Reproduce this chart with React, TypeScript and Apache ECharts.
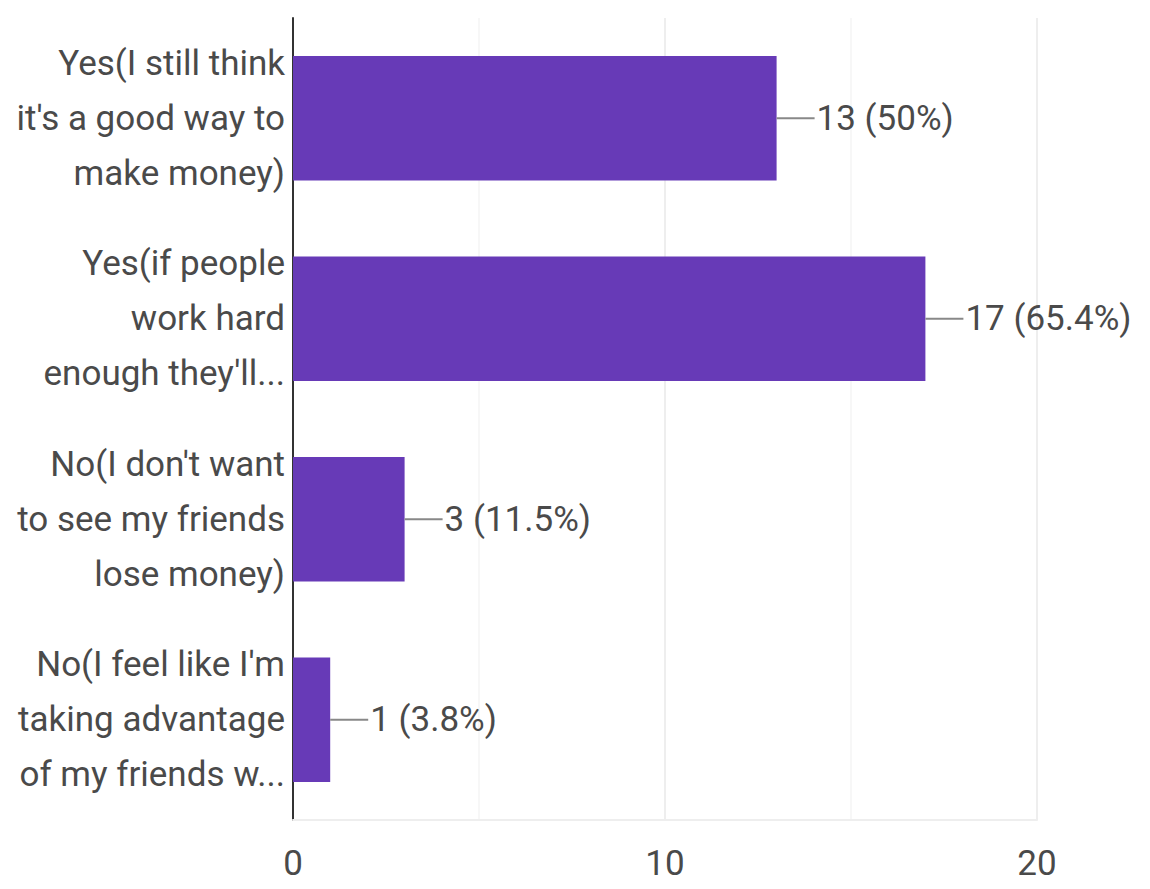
import React, { useEffect, useRef } from "react";
import * as echarts from "echarts";

const categories = [
  "Yes(I still think\nit's a good way to\nmake money)",
  "Yes(if people\nwork hard\nenough they'll...",
  "No(I don't want\nto see my friends\nlose money)",
  "No(I feel like I'm\ntaking advantage\nof my friends w...",
];
const counts = [13, 17, 3, 1];
const percents = ["50%", "65.4%", "11.5%", "3.8%"];
const xTicks = [0, 10, 20];

export default function App() {
  const ref = useRef<HTMLDivElement>(null);
  useEffect(() => {
    if (!ref.current) return;
    const chart = echarts.init(ref.current, undefined, { renderer: "svg" });
    chart.setOption({
      animation: false,
      backgroundColor: "#ffffff",
      grid: { left: 293, right: 113, top: 18, bottom: 69, containLabel: false },
      xAxis: {
        type: "value",
        min: xTicks[0],
        max: xTicks[xTicks.length - 1],
        interval: 10,
        axisLine: { show: true, lineStyle: { color: "#eeeeee", width: 2 } },
        axisTick: { show: false },
        axisLabel: {
          color: "#4a4a4a",
          fontFamily: "Roboto",
          fontSize: 35,
          margin: 26,
        },
        splitLine: { show: true, lineStyle: { color: "#eeeeee", width: 2 } },
        minorTick: { show: false, splitNumber: 2 },
        minorSplitLine: { show: true, lineStyle: { color: "#f7f7f7", width: 2 } },
      },
      yAxis: {
        type: "category",
        inverse: true,
        data: categories,
        axisLine: { show: true, lineStyle: { color: "#333333", width: 2 } },
        axisTick: { show: false },
        axisLabel: {
          color: "#4a4a4a",
          fontFamily: "Roboto",
          fontSize: 35,
          lineHeight: 55,
          margin: 8,
          align: "right",
        },
        splitLine: { show: false },
      },
      series: [
        {
          type: "bar",
          data: counts,
          barCategoryGap: "38%",
          itemStyle: { color: "#673ab7" },
          label: {
            show: true,
            position: "right",
            distance: 0,
            formatter: (p: any) => `{l|}{t|${counts[p.dataIndex]} (${percents[p.dataIndex]})}`,
            rich: {
              l: { width: 38, height: 2, backgroundColor: "#888888" },
              t: {
                color: "#4a4a4a",
                fontFamily: "Roboto",
                fontSize: 35,
                padding: [0, 0, 0, 2],
              },
            },
          },
        },
      ],
    });
    return () => chart.dispose();
  }, []);
  return <div ref={ref} style={{ width: 1150, height: 889, position: "absolute", left: 0, top: 0 }} />;
}
